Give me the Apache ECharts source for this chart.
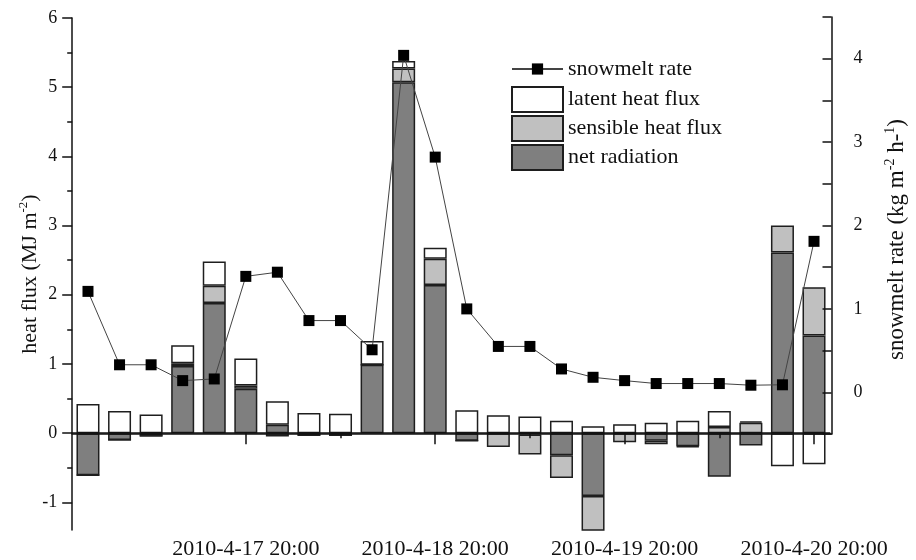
<!DOCTYPE html>
<html>
<head>
<meta charset="utf-8">
<script src="https://cdn.jsdelivr.net/npm/echarts@6/dist/echarts.min.js"></script>
<style>
html,body{margin:0;padding:0;background:#fff;}
#chart{width:916px;height:560px;}
</style>
</head>
<body>
<div id="chart"></div>
<script>
// ---- data ----
const categories = [
  '2010-4-17 0:00','2010-4-17 4:00','2010-4-17 8:00','2010-4-17 12:00','2010-4-17 16:00','2010-4-17 20:00',
  '2010-4-18 0:00','2010-4-18 4:00','2010-4-18 8:00','2010-4-18 12:00','2010-4-18 16:00','2010-4-18 20:00',
  '2010-4-19 0:00','2010-4-19 4:00','2010-4-19 8:00','2010-4-19 12:00','2010-4-19 16:00','2010-4-19 20:00',
  '2010-4-20 0:00','2010-4-20 4:00','2010-4-20 8:00','2010-4-20 12:00','2010-4-20 16:00','2010-4-20 20:00'
];
const netRadiation = [-0.61, -0.10, -0.04, 0.97, 1.88, 0.64, 0.12, -0.03, -0.03, 0.99, 5.07, 2.14,
                      -0.11, 0, -0.02, -0.32, -0.91, 0, -0.11, -0.19, -0.63, -0.18, 2.61, 1.41];
const sensibleHeat = [0, 0, 0, 0.04, 0.25, 0.05, -0.05, 0, 0, 0, 0.20, 0.38,
                      0, -0.20, -0.29, -0.33, -0.60, -0.13, -0.05, -0.01, 0.09, 0.15, 0.39, 0.70];
const latentHeat = [0.42, 0.32, 0.27, 0.26, 0.35, 0.39, 0.34, 0.29, 0.28, 0.34, 0.11, 0.16,
                    0.33, 0.26, 0.24, 0.18, 0.10, 0.13, 0.15, 0.18, 0.23, 0.02, -0.48, -0.45];
const snowmeltRate = [1.21, 0.33, 0.33, 0.14, 0.16, 1.39, 1.44, 0.86, 0.86, 0.51, 4.04, 2.82,
                      1.00, 0.55, 0.55, 0.28, 0.18, 0.14, 0.105, 0.105, 0.105, 0.085, 0.09, 1.81];
const leftTicks = [-1, 0, 1, 2, 3, 4, 5, 6];
const leftMinorTicks = [-0.5, 0.5, 1.5, 2.5, 3.5, 4.5, 5.5];
const labelIdx = [5, 11, 17, 23];
const minorIdx = [8, 14, 20];

// ---- chart ----
const FONT = 'Liberation Serif';
const TXT = '#111';
const chart = echarts.init(document.getElementById('chart'), null, {renderer: 'canvas'});
const barBorder = {borderColor: '#1e1e1e', borderWidth: 1.5};

const option = {
  animation: false,
  backgroundColor: '#fff',
  textStyle: {fontFamily: FONT, color: TXT},
  grid: [
    {left: 72.2, right: 86.2, top: 18, bottom: 29},
    {left: 72.2, right: 86.2, top: 17, bottom: 126},
    {left: 72, right: 72, top: 17, bottom: 126}
  ],
  legend: [
    {
      data: ['snowmelt rate'], orient: 'vertical', left: 506, top: 52,
      itemWidth: 51, itemHeight: 14,
      textStyle: {fontFamily: FONT, fontSize: 22, color: TXT, lineHeight: 24}
    },
    {
      data: ['latent heat flux', 'sensible heat flux', 'net radiation'],
      orient: 'vertical', left: 506, top: 81, itemWidth: 51, itemHeight: 25, itemGap: 2,
      icon: 'rect',
      textStyle: {fontFamily: FONT, fontSize: 22, color: TXT, lineHeight: 24}
    }
  ],
  xAxis: [
    { // major ticks at zero line
      gridIndex: 0, type: 'category', data: categories, position: 'bottom', z: 10,
      axisLine: {show: true, onZero: true, lineStyle: {color: '#111', width: 1.5}},
      axisTick: {show: true, alignWithLabel: true, length: 11, lineStyle: {color: '#111', width: 1.5},
                 interval: (i) => labelIdx.indexOf(i) >= 0},
      axisLabel: {show: false}
    },
    { // labels at the bottom
      gridIndex: 0, type: 'category', data: categories, position: 'bottom',
      axisLine: {show: false, onZero: false}, axisTick: {show: false},
      axisLabel: {show: true, interval: (i) => labelIdx.indexOf(i) >= 0, margin: 8,
                  fontFamily: FONT, fontSize: 22, color: TXT}
    },
    { // minor ticks at zero line
      gridIndex: 0, type: 'category', data: categories, position: 'top', z: 10,
      axisLine: {show: false, onZero: true},
      axisTick: {show: true, inside: true, alignWithLabel: true, length: 5, lineStyle: {color: '#111', width: 1.5},
                 interval: (i) => minorIdx.indexOf(i) >= 0},
      axisLabel: {show: false}
    },
    { gridIndex: 1, type: 'category', data: categories, show: false },
    { gridIndex: 2, type: 'value', min: 0, max: 1, position: 'bottom', z: 10,
      axisLine: {show: true, onZero: false, lineStyle: {color: '#111', width: 1.5}},
      axisTick: {show: false}, axisLabel: {show: false}, splitLine: {show: false} }
  ],
  yAxis: [
    {
      gridIndex: 0, type: 'value', min: -1.4, max: 6, position: 'left',
      name: '{n|heat flux (MJ m}{s|-2}{n|)}', nameLocation: 'middle', nameRotate: 90, nameGap: 29,
      nameMoveOverlap: false,
      nameTextStyle: {
        rich: {
          n: {fontFamily: FONT, fontSize: 22, color: TXT, lineHeight: 26},
          s: {fontFamily: FONT, fontSize: 13, color: TXT, lineHeight: 14, verticalAlign: 'top'}
        }
      },
      axisLine: {show: true, onZero: false, lineStyle: {color: '#111', width: 1.5}},
      axisTick: {show: true, length: 10, customValues: leftTicks, lineStyle: {color: '#111', width: 1.5}},
      axisLabel: {show: true, customValues: leftTicks, margin: 15, fontFamily: FONT, fontSize: 18, color: TXT},
      splitLine: {show: false}
    },
    {
      gridIndex: 0, type: 'value', min: -1.4, max: 6, position: 'left',
      axisLine: {show: false, onZero: false},
      axisTick: {show: true, length: 5, customValues: leftMinorTicks, lineStyle: {color: '#111', width: 1.5}},
      axisLabel: {show: false}, splitLine: {show: false}
    },
    { gridIndex: 1, type: 'value', min: -0.5, max: 4.5, show: false },
    {
      gridIndex: 2, type: 'value', min: -0.5, max: 4.5, interval: 0.5, position: 'right', z: 10,
      name: '{n|snowmelt rate (kg m}{s|-2}{n| h-}{s|1}{n|)}', nameLocation: 'middle', nameRotate: 90, nameGap: 52,
      nameMoveOverlap: false,
      nameTextStyle: {
        padding: [0, 28, 0, 0],
        rich: {
          n: {fontFamily: FONT, fontSize: 23, color: TXT, lineHeight: 26},
          s: {fontFamily: FONT, fontSize: 14, color: TXT, lineHeight: 14, verticalAlign: 'top'}
        }
      },
      axisLine: {show: true, onZero: false, lineStyle: {color: '#111', width: 1.5}},
      axisTick: {show: true, inside: true, length: 9, lineStyle: {color: '#111', width: 1.5}},
      axisLabel: {show: true, margin: 22, fontFamily: FONT, fontSize: 18, color: TXT,
                  formatter: (v) => (Math.abs(v - Math.round(v)) < 1e-6 ? String(Math.round(v)) : '')},
      splitLine: {show: false}
    }
  ],
  series: [
    {
      name: 'net radiation', type: 'bar', stack: 'flux', xAxisIndex: 0, yAxisIndex: 0,
      barWidth: 23, data: netRadiation,
      itemStyle: Object.assign({color: '#7f7f7f'}, barBorder)
    },
    {
      name: 'sensible heat flux', type: 'bar', stack: 'flux', xAxisIndex: 0, yAxisIndex: 0,
      barWidth: 23, data: sensibleHeat,
      itemStyle: Object.assign({color: '#c0c0c0'}, barBorder)
    },
    {
      name: 'latent heat flux', type: 'bar', stack: 'flux', xAxisIndex: 0, yAxisIndex: 0,
      barWidth: 23, data: latentHeat,
      itemStyle: Object.assign({color: '#ffffff'}, barBorder)
    },
    {
      name: 'snowmelt rate', type: 'line', xAxisIndex: 3, yAxisIndex: 2, z: 6,
      data: snowmeltRate, symbol: 'rect', symbolSize: 11,
      lineStyle: {color: '#444', width: 1},
      itemStyle: {color: '#000', borderWidth: 0}
    }
  ]
};
chart.setOption(option);
</script>
</body>
</html>
